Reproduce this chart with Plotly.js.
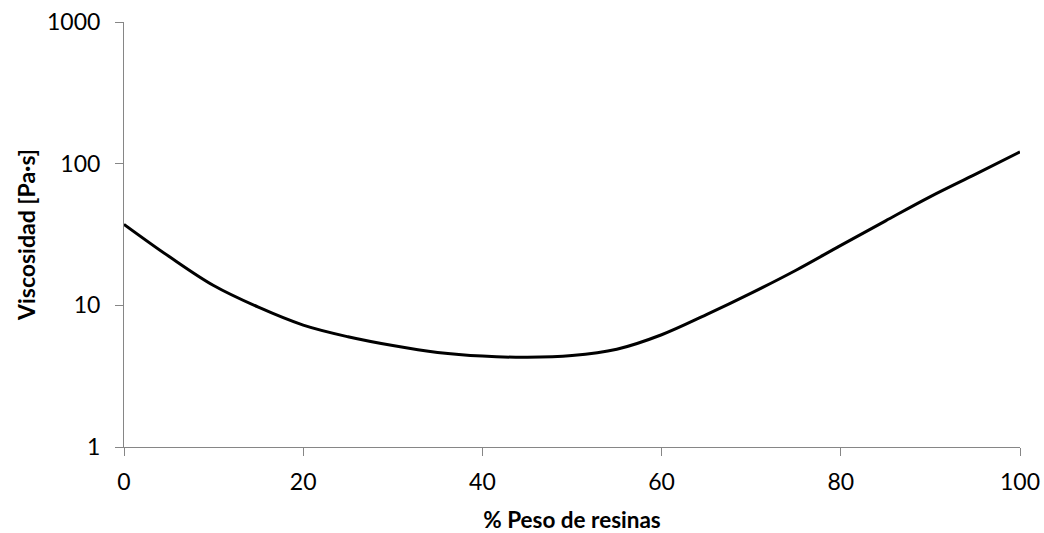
<!DOCTYPE html>
<html>
<head>
<meta charset="utf-8">
<script src="https://cdn.plot.ly/plotly-3.0.1.min.js"></script>
<style>html,body{margin:0;padding:0;background:#fff;}#chart{width:1044px;height:533px;}</style>
</head>
<body>
<div id="chart"></div>
<script>
const pesoResinas = [0, 5, 10, 15, 20, 25, 30, 35, 40, 45, 50, 55, 60, 65, 70, 75, 80, 85, 90, 95, 100];
const viscosidad = [37.3, 22.2, 13.8, 9.7, 7.25, 6.0, 5.2, 4.65, 4.38, 4.3, 4.42, 4.9, 6.2, 8.6, 12.2, 17.7, 26.5, 39.5, 58.5, 84, 121];
const yTickVals = [1, 10, 100, 1000];
const yTickText = ["1", "10", "100", "1000"];
const xTitle = "% Peso de resinas";
const yTitle = "Viscosidad [Pa·s]";

const font = "Lato, 'Open Sans', sans-serif";
Plotly.newPlot("chart", [{
  x: pesoResinas,
  y: viscosidad,
  type: "scatter",
  mode: "lines",
  line: {color: "#000000", width: 3, shape: "spline", smoothing: 1},
  hoverinfo: "x+y"
}], {
  width: 1044, height: 533,
  margin: {l: 124, r: 24, t: 22, b: 86},
  paper_bgcolor: "#ffffff",
  plot_bgcolor: "#ffffff",
  showlegend: false,
  font: {family: font, color: "#000000", size: 23},
  xaxis: {
    range: [0, 100], tick0: 0, dtick: 20,
    showgrid: false, zeroline: false,
    showline: true, linecolor: "#868686", linewidth: 1,
    ticks: "outside", ticklen: 8, tickcolor: "#868686",
    ticklabelstandoff: 6,
    tickfont: {family: font, size: 23, color: "#000"},
    title: {text: xTitle, font: {family: font, size: 22.5, color: "#000", weight: "bold"}, standoff: 18}
  },
  yaxis: {
    type: "log", range: [0, 3],
    tickmode: "array", tickvals: yTickVals, ticktext: yTickText,
    showgrid: false, zeroline: false,
    showline: true, linecolor: "#868686", linewidth: 1,
    ticks: "outside", ticklen: 8, tickcolor: "#868686",
    ticklabelstandoff: 10,
    tickfont: {family: font, size: 23, color: "#000"},
    title: {text: yTitle, font: {family: font, size: 23, color: "#000", weight: "bold"}, standoff: 4}
  }
}, {displayModeBar: false, staticPlot: true});
</script>
</body>
</html>
